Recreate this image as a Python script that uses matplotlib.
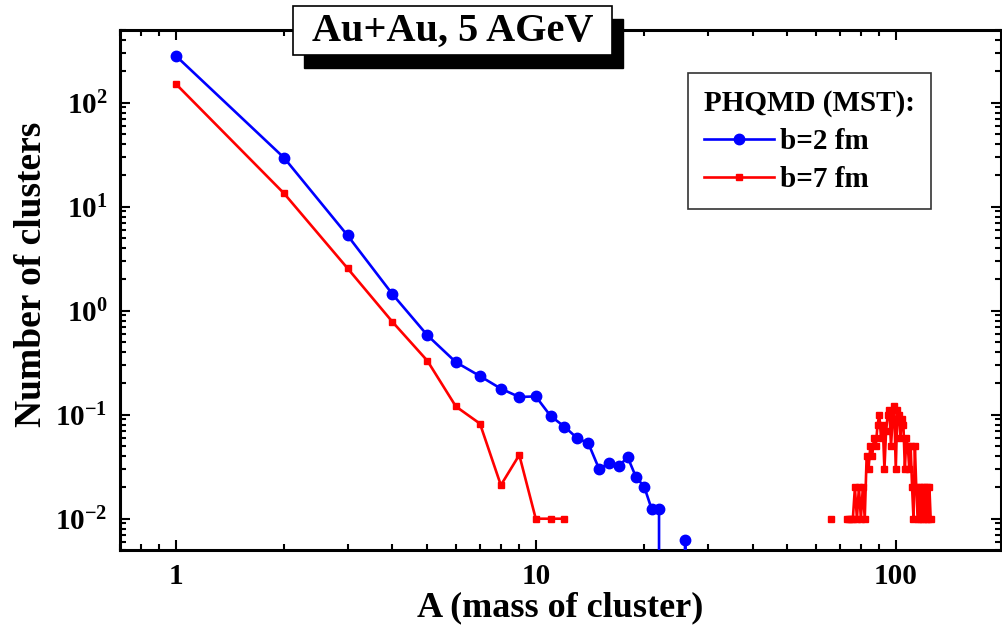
import matplotlib
matplotlib.use('Agg')
import matplotlib.pyplot as plt
import matplotlib.ticker as ticker
from matplotlib.patches import Rectangle
import numpy as np

# cluster mass A and number of clusters, b = 2 fm
blue_A = [1, 2, 3, 4, 5, 6, 7, 8, 9, 10, 11, 12, 13, 14, 15, 16, 17, 18, 19,
          20, 21, 22, 23, 24, 25, 26, 27]
blue_N = [283, 29.5, 5.3, 1.44, 0.58, 0.32, 0.235, 0.178, 0.148, 0.15, 0.097,
          0.077, 0.06, 0.053, 0.030, 0.0345, 0.032, 0.039, 0.025, 0.0204,
          0.0123, 0.0123, 0, 0, 0, 0.0062, 0]

# b = 7 fm: light fragments
red_A_low = [1, 2, 3, 4, 5, 6, 7, 8, 9, 10, 11, 12]
red_N_low = [152, 13.4, 2.56, 0.78, 0.33, 0.12, 0.082, 0.021, 0.041, 0.01,
             0.01, 0.01]
# isolated point
red_A_iso = [66]
red_N_iso = [0.01]
# heavy spectator fragments
red_A_heavy = [73, 74, 75, 76, 77, 78, 79, 80, 81, 82, 83, 84, 85, 86, 87, 88,
               89, 90, 91, 92, 93, 94, 95, 96, 97, 98, 99, 100, 101, 102, 103,
               104, 105, 106, 107, 108, 109, 110, 111, 112, 113, 114, 115, 116,
               117, 118, 119, 120, 121, 122, 123, 124, 125]
red_N_heavy = [0.01, 0.01, 0.01, 0.01, 0.02, 0.01, 0.02, 0.01, 0.02, 0.01,
               0.04, 0.03, 0.05, 0.04, 0.06, 0.05, 0.08, 0.10, 0.06, 0.08,
               0.03, 0.07, 0.10, 0.11, 0.05, 0.09, 0.12, 0.03, 0.11, 0.10,
               0.06, 0.09, 0.08, 0.03, 0.06, 0.05, 0.03, 0.05, 0.02, 0.01,
               0.05, 0.02, 0.01, 0.02, 0.01, 0.02, 0.01, 0.02, 0.01, 0.02,
               0.01, 0.02, 0.01]

x_tick_vals = [1, 10, 100]
x_tick_labels = ['1', '10', '100']

title_text = 'Au+Au, 5 AGeV'
legend_title = 'PHQMD (MST):'
label_blue = 'b=2 fm'
label_red = 'b=7 fm'


def main():
    plt.rcParams['font.family'] = ['Liberation Serif', 'DejaVu Serif']
    plt.rcParams['font.weight'] = 'bold'

    fig = plt.figure(figsize=(10.03, 6.33), dpi=100)
    ax = fig.add_axes([0.1196, 0.1311, 0.8784, 0.8215])

    ax.set_xscale('log')
    ax.set_yscale('log', nonpositive='clip')

    # red series with gaps between the separate groups
    red_A = red_A_low + [np.nan] + red_A_iso + [np.nan] + red_A_heavy
    red_N = red_N_low + [np.nan] + red_N_iso + [np.nan] + red_N_heavy

    ax.plot(blue_A, blue_N, color='#0000ff', lw=1.9, marker='o', ms=7.5,
            label=label_blue, zorder=3)
    ax.plot(red_A, red_N, color='#ff0000', lw=1.9, marker='s', ms=4.3,
            label=label_red, zorder=3)

    ax.set_xlim(0.7, 196)
    ax.set_ylim(0.005, 500)

    ax.xaxis.set_major_locator(ticker.FixedLocator(x_tick_vals))
    ax.xaxis.set_major_formatter(ticker.FixedFormatter(x_tick_labels))
    ax.xaxis.set_minor_locator(ticker.LogLocator(base=10, subs=np.arange(2, 10)))
    ax.xaxis.set_minor_formatter(ticker.NullFormatter())
    ax.yaxis.set_major_locator(ticker.LogLocator(base=10, numticks=10))
    ax.yaxis.set_minor_locator(ticker.LogLocator(base=10, subs=np.arange(2, 10),
                                                 numticks=20))
    ax.yaxis.set_minor_formatter(ticker.NullFormatter())

    ax.tick_params(which='both', direction='in', top=True, right=True,
                   width=1.5, labelsize=21)
    ax.tick_params(which='major', length=7.5)
    ax.tick_params(which='minor', length=4)
    ax.tick_params(axis='x', pad=9)
    ax.tick_params(axis='y', pad=9)
    for s in ax.spines.values():
        s.set_linewidth(2.2)

    # axis labels
    ax.set_xlabel('A (mass of cluster)', fontsize=26, fontweight='bold')
    ax.set_ylabel('Number of clusters', fontsize=27, fontweight='bold')
    ax.xaxis.set_label_coords(0.5, -0.08)
    ax.yaxis.set_label_coords(-0.08, 0.53)

    # legend
    leg = ax.legend(title=legend_title, loc='upper left',
                    bbox_to_anchor=(0.645, 0.917), borderaxespad=0,
                    fontsize=21, title_fontsize=21, alignment='left',
                    handlelength=2.4, handletextpad=0.2, labelspacing=0.39,
                    borderpad=0.55, fancybox=False, framealpha=1,
                    edgecolor='#333333')
    leg.get_frame().set_linewidth(1.2)
    leg.get_title().set_fontweight('bold')

    # title box with shadow, on top of the frame
    fig.add_artist(Rectangle((0.303, 0.8926), 0.318, 0.0774,
                             transform=fig.transFigure, facecolor='black',
                             edgecolor='black', zorder=5))
    fig.add_artist(Rectangle((0.292, 0.9131), 0.318, 0.0774,
                             transform=fig.transFigure, facecolor='white',
                             edgecolor='black', lw=1.2, zorder=6))
    fig.text(0.451, 0.951, title_text, ha='center', va='center', fontsize=29,
             fontweight='bold', zorder=7)

    fig.savefig('out.png', dpi=100)


if __name__ == '__main__':
    main()
